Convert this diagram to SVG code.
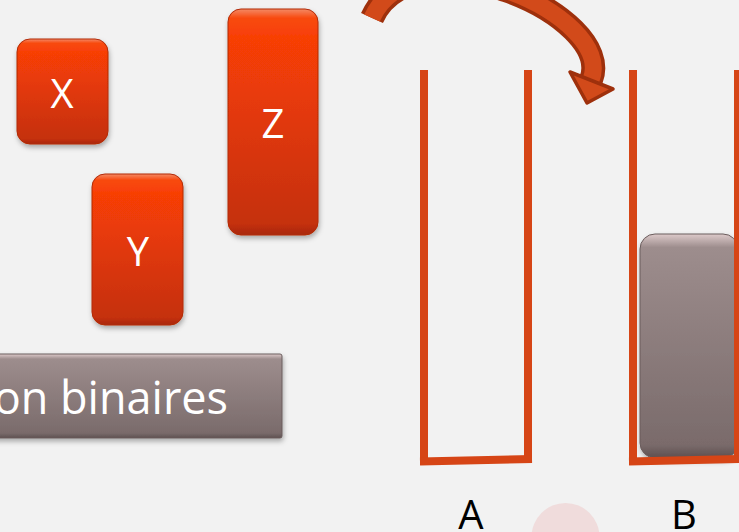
<svg xmlns="http://www.w3.org/2000/svg" width="739" height="532" viewBox="0 0 739 532">
<defs>
<linearGradient id="gOr" x1="0" y1="0" x2="0" y2="1">
<stop offset="0" stop-color="#f48a66"/>
<stop offset="0.04" stop-color="#f84a10"/>
<stop offset="0.12" stop-color="#f83f06"/>
<stop offset="0.95" stop-color="#c5300a"/>
<stop offset="1" stop-color="#a82808"/>
</linearGradient>
<linearGradient id="gGr" x1="0" y1="0" x2="0" y2="1">
<stop offset="0" stop-color="#ddcaca"/>
<stop offset="0.06" stop-color="#9d8d8d"/>
<stop offset="0.94" stop-color="#7a6b6b"/>
<stop offset="1" stop-color="#5e5050"/>
</linearGradient>
<filter id="sh" x="-20%" y="-20%" width="140%" height="140%">
<feDropShadow dx="1" dy="3" stdDeviation="2.5" flood-color="#000" flood-opacity="0.3"/>
</filter>
</defs>
<style>
.box{fill:url(#gOr);stroke:#b22a06;stroke-width:1;filter:url(#sh)}
.gbox{fill:url(#gGr);stroke:#6a5c5c;stroke-width:1;filter:url(#sh)}
.lbl{font-family:"Open Sans","Noto Sans",sans-serif;font-size:40px;fill:#fff;text-anchor:middle}
.cap{font-family:"Open Sans","Noto Sans",sans-serif;font-size:40px;fill:#000;text-anchor:middle}
.bar{stroke:#d64516;stroke-width:8;fill:none}
</style>
<rect width="739" height="532" fill="#f2f2f2"/>
<circle cx="565.5" cy="537" r="34" fill="#f0dcdc"/>

<g id="node-X"><rect class="box" x="17" y="39" width="91" height="105" rx="13"/><text class="lbl" x="62" y="108">X</text></g>
<g id="node-Y"><rect class="box" x="92" y="174" width="91" height="151" rx="13"/><text class="lbl" x="138" y="266">Y</text></g>
<g id="node-Z"><rect class="box" x="228" y="9" width="90" height="226" rx="13"/><text class="lbl" x="273" y="138">Z</text></g>
<g id="node-bin"><rect class="gbox" x="-20" y="354" width="302" height="84" rx="2"/><text x="228" y="414" font-family="'Open Sans','Noto Sans',sans-serif" font-size="45" fill="#fff" text-anchor="end">on binaires</text></g>

<g id="node-A">
<line class="bar" x1="424" y1="70" x2="424" y2="465"/>
<line class="bar" x1="528" y1="70" x2="528" y2="462"/>
<line class="bar" x1="420" y1="461.5" x2="532" y2="459"/>
<text class="cap" x="471" y="529">A</text>
</g>
<g id="node-B">
<rect class="gbox" x="640" y="234" width="98" height="224" rx="15"/>
<line class="bar" x1="633" y1="70" x2="633" y2="465"/>
<line class="bar" x1="738" y1="70" x2="738" y2="462"/>
<line class="bar" x1="629" y1="461.5" x2="742" y2="459"/>
<text class="cap" x="684" y="529">B</text>
</g>

<g id="connectors">
<path d="M372 18 C413 -73 617 15 591 80" fill="none" stroke="#9e300c" stroke-width="24"/>
<path d="M372 18 C413 -73 617 15 591 80" fill="none" stroke="#d24a1a" stroke-width="17"/>
<polygon points="570,72 613,89 587,103" fill="#d24a1a" stroke="#9e300c" stroke-width="3.5" stroke-linejoin="round"/>
</g>
</svg>
